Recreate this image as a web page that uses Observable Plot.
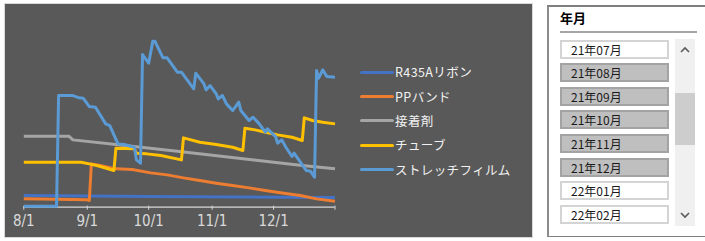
<!DOCTYPE html>
<html><head><meta charset="utf-8">
<script src="https://cdn.jsdelivr.net/npm/d3@7"></script>
<script src="https://cdn.jsdelivr.net/npm/@observablehq/plot@0.6"></script>
<style>
body{margin:0;background:#fff;font-family:"Noto Sans CJK JP","Noto Sans",sans-serif;}
#wrap{position:relative;width:705px;height:241px;overflow:hidden;background:#fff;}
#chart{position:absolute;left:5px;top:4px;width:527px;height:233px;background:#595959;box-shadow:0 0 0 1px #d9d9d9;}
#chart svg{position:absolute;left:0;top:0;}
#legend{position:absolute;left:355px;top:0;}
.lg{position:absolute;left:0;height:20px;white-space:nowrap;color:#f2f2f2;font-size:12.5px;line-height:20px;}
.lg i{position:absolute;left:0;top:8.5px;width:34px;height:3px;border-radius:1.5px;}
.lg span{position:absolute;left:35px;top:0;letter-spacing:0.4px;}
#slicer{position:absolute;left:547px;top:5px;width:170px;height:232px;border-top:2px solid #7f7f7f;border-left:2px solid #8c8c8c;border-bottom:1.5px solid #7f7f7f;box-sizing:border-box;background:#fff;}
#sh{position:absolute;left:11px;top:1px;font-weight:bold;font-size:13px;color:#000;}
#sline{position:absolute;left:11px;top:23.5px;width:137px;height:2px;background:#a6a6a6;}
.it{position:absolute;left:11px;width:109px;height:19px;box-sizing:border-box;border:2px solid #d4d4d4;background:#fff;font-size:12px;line-height:15px;padding-left:9px;color:#1a1a1a;}
.it.sel{background:#bfbfbf;border-color:#a3a3a3;}
#sb{position:absolute;left:126px;top:32px;width:20px;height:187px;background:#f0f0f0;}
#thumb{position:absolute;left:0;top:54px;width:20px;height:52px;background:#cdcdcd;}
</style></head>
<body><div id="wrap"><div id="chart"><div id="legend"></div></div><div id="slicer"><div id="sh">年月</div><div id="sline"></div><div id="items"></div><div id="sb"><div id="thumb"></div>
<svg width="20" height="187" style="position:absolute;left:0;top:0"><polyline points="6,13 10,9 14,13" fill="none" stroke="#5a5a5a" stroke-width="1.6"/><polyline points="6,174 10,178 14,174" fill="none" stroke="#5a5a5a" stroke-width="1.6"/></svg></div></div></div>
<script>
// ---- data ----
const seriesNames = ["R435Aリボン", "PPバンド", "接着剤", "チューブ", "ストレッチフィルム"];

const ribbonDates  = ["2021-08-01", "2021-10-01", "2021-12-31"];
const ribbonValues = [32, 29, 26];

const ppDates  = ["2021-08-01","2021-09-01","2021-09-02","2021-09-03","2021-09-06","2021-09-15","2021-09-23","2021-10-02","2021-10-10","2021-10-18","2021-10-26","2021-11-03","2021-11-11","2021-11-19","2021-11-27","2021-12-06","2021-12-14","2021-12-22","2021-12-31"];
const ppValues = [22, 19, 17, 127, 124, 112, 110, 100, 94, 85, 77, 69, 62, 55, 47, 39, 32, 22, 15];

const glueDates  = ["2021-08-01","2021-08-23","2021-08-25","2021-09-15","2021-10-15","2021-11-15","2021-12-15","2021-12-31"];
const glueValues = [210, 210, 199, 185, 165, 143, 122, 112];

const tubeDates  = ["2021-08-01","2021-08-29","2021-09-02","2021-09-07","2021-09-14","2021-09-15","2021-09-24","2021-09-25","2021-09-30","2021-10-07","2021-10-17","2021-10-18","2021-10-26","2021-11-03","2021-11-11","2021-11-16","2021-11-17","2021-11-22","2021-11-27","2021-12-03","2021-12-10","2021-12-15","2021-12-16","2021-12-20","2021-12-25","2021-12-31"];
const tubeValues = [132, 132, 127, 120, 107, 174, 172, 159, 157, 152, 139, 205, 192, 185, 177, 167, 234, 229, 222, 214, 207, 197, 265, 257, 252, 247];

const filmDates  = ["2021-08-01","2021-08-17","2021-08-18","2021-08-25","2021-08-28","2021-08-30","2021-09-02","2021-09-05","2021-09-10","2021-09-12","2021-09-16","2021-09-19","2021-09-24","2021-09-25","2021-09-27","2021-09-28","2021-10-01","2021-10-03","2021-10-04","2021-10-08","2021-10-10","2021-10-15","2021-10-17","2021-10-23","2021-10-24","2021-10-28","2021-10-29","2021-10-31","2021-11-03","2021-11-04","2021-11-06","2021-11-08","2021-11-11","2021-11-14","2021-11-15","2021-11-19","2021-11-21","2021-11-24","2021-11-27","2021-11-28","2021-12-02","2021-12-03","2021-12-05","2021-12-07","2021-12-10","2021-12-11","2021-12-17","2021-12-19","2021-12-21","2021-12-22","2021-12-23","2021-12-25","2021-12-27","2021-12-31"];
const filmValues = [0, 0, 332, 332, 325, 324, 299, 297, 247, 242, 187, 185, 177, 139, 129, 455, 429, 495, 495, 445, 445, 402, 402, 352, 399, 367, 349, 362, 337, 322, 332, 307, 287, 312, 287, 257, 267, 247, 222, 232, 209, 189, 199, 177, 149, 159, 107, 105, 87, 407, 384, 409, 389, 387];

const tickDates = ["2021-08-01","2021-09-01","2021-10-01","2021-11-01","2021-12-01","2021-12-31"];
const tickLabels = ["8/1","9/1","10/1","11/1","12/1",""];

const slicerMonths = ["21年07月","21年08月","21年09月","21年10月","21年11月","21年12月","22年01月","22年02月"];
const slicerSelected = [false, true, true, true, true, true, false, false];

// ---- styles ----
const seriesColors = ["#4472C4", "#ED7D31", "#A5A5A5", "#FFC000", "#5B9BD5"];

// ---- build table ----
const seriesDates = [ribbonDates, ppDates, glueDates, tubeDates, filmDates];
const seriesValues = [ribbonValues, ppValues, glueValues, tubeValues, filmValues];
const rows = [];
seriesNames.forEach((name, i) => {
  seriesDates[i].forEach((d, j) => rows.push({series: name, date: new Date(d + "T00:00:00Z"), value: seriesValues[i][j]}));
});
const ticks = tickDates.map(d => new Date(d + "T00:00:00Z"));
const labelOf = new Map(ticks.map((t, i) => [+t, tickLabels[i]]));

const chart = Plot.plot({
  width: 527, height: 233,
  marginLeft: 18.3, marginRight: 197.5, marginTop: 36.7, marginBottom: 31.3,
  style: {background: "transparent", color: "#d9d9d9", fontFamily: "'Liberation Sans Narrow','DejaVu Sans Condensed',sans-serif", fontSize: "15px"},
  x: {type: "utc", domain: [ticks[0], ticks[ticks.length - 1]]},
  y: {domain: [0, 495], axis: null},
  color: {domain: seriesNames, range: seriesColors},
  marks: [
    Plot.ruleY([0], {stroke: "#d9d9d9", strokeWidth: 1.2, dy: 1}),
    Plot.axisX({ticks: ticks, tickSize: 4, tickPadding: 5, stroke: "#d9d9d9", fill: "#d9d9d9", tickFormat: d => labelOf.get(+d) ?? "", label: null}),
    Plot.line(rows, {x: "date", y: "value", z: "series", stroke: "series", strokeWidth: 3, strokeLinejoin: "round", strokeLinecap: "butt"})
  ]
});
document.getElementById("chart").appendChild(chart);

// legend
const legendTops = [62, 86.5, 110.5, 135, 159.5];
const lg = document.getElementById("legend");
seriesNames.forEach((n, i) => {
  const d = document.createElement("div");
  d.className = "lg";
  d.style.top = (legendTops[i] - 4) + "px";
  d.innerHTML = `<i style="background:${seriesColors[i]}"></i><span>${n}</span>`;
  lg.appendChild(d);
});

// slicer
const items = document.getElementById("items");
slicerMonths.forEach((m, i) => {
  const d = document.createElement("div");
  d.className = "it" + (slicerSelected[i] ? " sel" : "");
  d.style.top = (32.5 + i * 23.6) + "px";
  d.textContent = m;
  items.appendChild(d);
});
</script></body></html>
